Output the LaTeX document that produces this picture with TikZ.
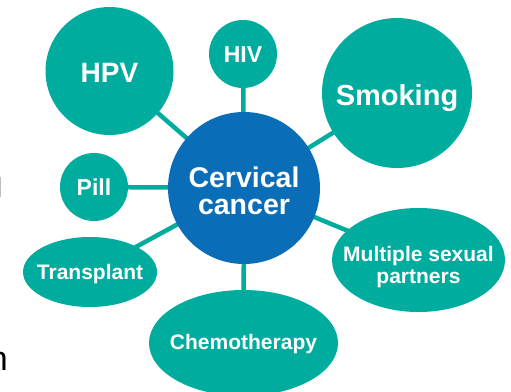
\documentclass[tikz,border=0pt]{standalone}
\usepackage{fontspec}
\setmainfont{Liberation Sans}
\usetikzlibrary{shapes.geometric}
\definecolor{teal1}{HTML}{00AC9E}
\definecolor{blue1}{HTML}{0A6DB7}
\tikzset{
  bub/.style={circle, fill=teal1, inner sep=0pt},
  ell/.style={ellipse, fill=teal1, inner sep=0pt},
  lbl/.style={text=white, inner sep=0pt, align=center},
  link/.style={draw=teal1, line width=4.5pt}
}
\begin{document}
\begin{tikzpicture}[x=1pt, y=-1pt]
\useasboundingbox (0,0) rectangle (511,391);
\coordinate (cc) at (244,188);
\coordinate (hpvc) at (109.5,71);
\coordinate (hivc) at (243,54);
\coordinate (smkc) at (397,93);
\coordinate (pilc) at (94,187);
\coordinate (trac) at (90,272);
\coordinate (chec) at (243.5,343);
\coordinate (mulc) at (418.5,260);
\draw[link] (cc) -- (hpvc);
\draw[link] (cc) -- (hivc);
\draw[link] (cc) -- (smkc);
\draw[link] (cc) -- (pilc);
\draw[link] (cc) -- (trac);
\draw[link] (cc) -- (chec);
\draw[link] (cc) -- (mulc);
\node[bub, minimum size=128pt] (hpv) at (hpvc) {};
\node[lbl, font=\bfseries\fontsize{28}{30}\selectfont] (hpvl) at ([yshift=-2pt]hpv.center) {HPV};
\node[bub, minimum size=68pt] (hiv) at (hivc) {};
\node[lbl, font=\bfseries\fontsize{23}{25}\selectfont] (hivl) at ([yshift=-1pt]hiv.center) {HIV};
\node[bub, minimum size=150pt] (smk) at (smkc) {};
\node[lbl, font=\bfseries\fontsize{29}{31}\selectfont] (smkl) at ([yshift=-5pt]smk.center) {Smoking};
\node[bub, minimum size=68pt] (pil) at (pilc) {};
\node[lbl, font=\bfseries\fontsize{23}{25}\selectfont] (pill) at (pil.center) {Pill};
\node[ell, minimum width=134pt, minimum height=70pt] (tra) at (trac) {};
\node[lbl, font=\bfseries\fontsize{21}{23}\selectfont] (tral) at ([yshift=-2pt]tra.center) {Transplant};
\node[ell, minimum width=189pt, minimum height=106pt] (che) at (chec) {};
\node[lbl, font=\bfseries\fontsize{21}{23}\selectfont] (chel) at ([yshift=-1pt]che.center) {Chemotherapy};
\node[ell, minimum width=173pt, minimum height=104pt] (mul) at (mulc) {};
\node[lbl, font=\bfseries\fontsize{21}{22}\selectfont] (mull) at ([yshift=-7pt]mul.center) {Multiple sexual\\partners};
\node[circle, fill=blue1, minimum size=152pt, inner sep=0pt] (cer) at (cc) {};
\node[lbl, font=\bfseries\fontsize{28.5}{27}\selectfont] (cerl) at ([yshift=-3pt]cer.center) {Cervical\\cancer};
\fill[black!25] (0,177) rectangle (1.2,197);
\node[anchor=base east, inner sep=0pt, font=\fontsize{34}{36}\selectfont] (frag) at (8,370) {n};
\end{tikzpicture}
\end{document}
